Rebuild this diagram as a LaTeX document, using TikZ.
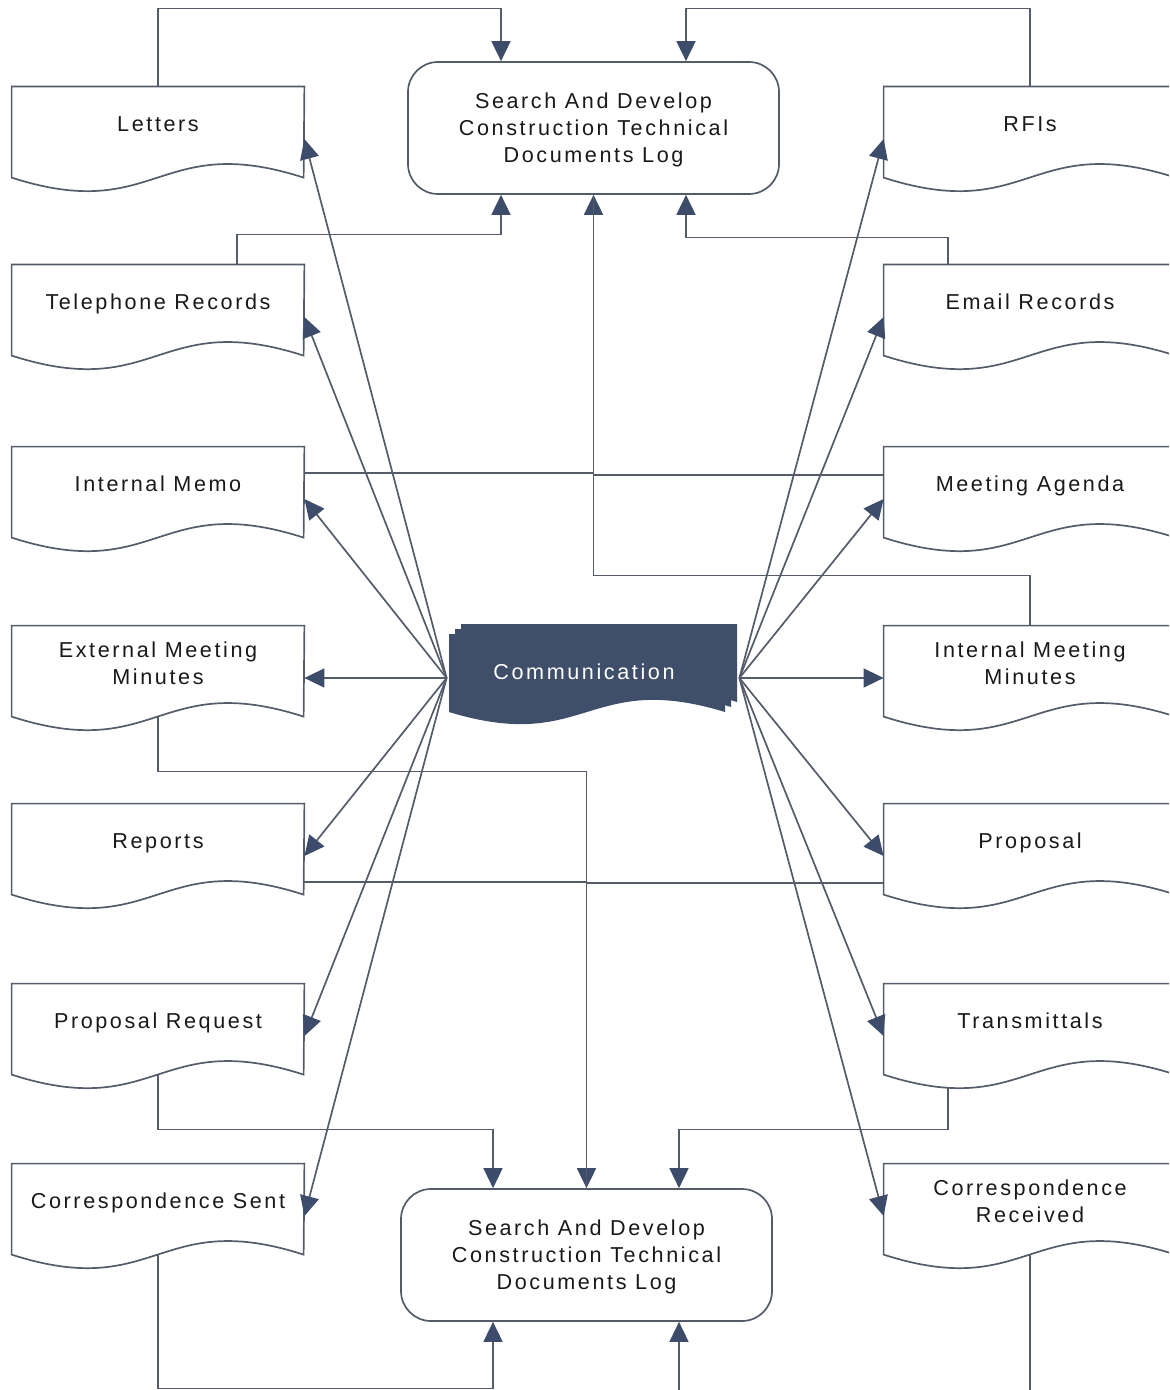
\documentclass[tikz,border=0pt]{standalone}
\usepackage{fontspec}
\setmainfont{Liberation Sans}[LetterSpace=12]
\usetikzlibrary{arrows.meta}
\definecolor{linec}{RGB}{84,92,106}
\definecolor{headc}{RGB}{61,76,106}
\definecolor{commc}{RGB}{63,78,105}
\tikzset{>={Triangle[length=10pt,width=9.5pt,color=headc]}}
\tikzset{
  doc/.style={minimum width=146pt,minimum height=37pt,inner sep=0pt,align=center,text=black!90},
  doc1/.style={doc,text height=0.73em,text depth=0pt},
  logbox/.style={draw=linec,line width=0.85pt,rounded corners=15pt,minimum width=185.5pt,
    minimum height=66pt,inner sep=0pt,align=center,text=black!90,text depth=0pt},
  link/.style={draw=linec,line width=0.85pt},
  flow/.style={link,->},
}
% outline of a document below its node
\newcommand{\docoutline}[1]{%
  \draw[link] (#1.north west) -- ++(0,91) .. controls +(146,47) and +(-146,-47) .. ++(292,0)
    -- (#1.north east) -- cycle;}

\begin{document}
\begin{tikzpicture}[x=0.5pt,y=-0.5pt,font=\fontsize{10.8}{13.5}\selectfont]
  \useasboundingbox (0,0) rectangle (1169,1390);
  \clip (0,0) rectangle (1169,1390);

  % logs
  \node[logbox] (toplog) at (593.5,128) {Search And Develop\\Construction Technical\\Documents Log};
  \node[logbox] (botlog) at (586.5,1255) {Search And Develop\\Construction Technical\\Documents Log};

  % left documents
  \node[doc1] (letters) at (158,124) {Letters};
  \node[doc1] (phone) at (158,302) {Telephone Records};
  \node[doc1] (memo) at (158,484) {Internal Memo};
  \node[doc] (emm) at (158,663) {External Meeting\\Minutes};
  \node[doc1] (reports) at (158,841) {Reports};
  \node[doc1] (preq) at (158,1021) {Proposal Request};
  \node[doc1] (csent) at (158,1201) {Correspondence Sent};
  % right documents
  \node[doc1] (rfis) at (1030,124) {RFIs};
  \node[doc1] (email) at (1030,302) {Email Records};
  \node[doc1] (agenda) at (1030,484) {Meeting Agenda};
  \node[doc] (imm) at (1030,663) {Internal Meeting\\Minutes};
  \node[doc1] (proposal) at (1030,841) {Proposal};
  \node[doc1] (trans) at (1030,1021) {Transmittals};
  \node[doc] (crec) at (1030,1201) {Correspondence\\Received};

  \foreach \n in {letters,phone,memo,emm,reports,preq,csent,rfis,email,agenda,imm,proposal,trans,crec}
    \docoutline{\n};

  % communication stack
  \node[inner sep=0pt,minimum width=146pt,minimum height=54pt] (comm) at (593,678) {};
  \foreach \d in {12,6,0}
    \fill[commc] (449+\d,634-\d*5/6) -- ++(0,78) .. controls +(138,42) and +(-138,-42) .. ++(276,0)
      -- ++(0,-78) -- cycle;
  \node[text=white] (commlabel) at (584,672) {Communication};

  \foreach \n in {letters,phone,memo,emm,reports,preq,csent}
    \draw[flow] (comm.west) -- ([yshift=-7.5pt]\n.east);
  \foreach \n in {rfis,email,agenda,imm,proposal,trans,crec}
    \draw[flow] (comm.east) -- ([yshift=-7.5pt]\n.west);

  % into the top log
  \draw[flow] (letters.north) -- ++(0,-78) -| ([xshift=-46.25pt]toplog.north);
  \draw[flow] (rfis.north) -- ++(0,-78) -| ([xshift=46.25pt]toplog.north);
  \draw[flow] ([xshift=39.5pt]phone.north) -- ++(0,-30) -| ([xshift=-46.25pt]toplog.south);
  \draw[flow] ([xshift=-41pt]email.north) -- ++(0,-27) -| ([xshift=46.25pt]toplog.south);
  \draw[flow] (imm.north) -- ++(0,-50) -| (toplog.south);
  \draw[link] ([yshift=5.5pt]memo.east) -| (toplog.south);
  \draw[link] ([yshift=4.5pt]agenda.west) -| (toplog.south);

  % into the bottom log
  \draw[flow] ([yshift=-8.5pt]emm.south) -- ++(0,54) -| (botlog.north);
  \draw[link] ([yshift=-20.5pt]reports.east) -| (botlog.north);
  \draw[link] ([yshift=-21pt]proposal.west) -| (botlog.north);
  \draw[flow] ([yshift=-8.5pt]preq.south) -- ++(0,54) -| ([xshift=-46.75pt]botlog.north);
  \draw[flow] ([xshift=-41pt,yshift=-15pt]trans.south) -- ++(0,41) -| ([xshift=46.25pt]botlog.north);
  \draw[flow] ([yshift=-8.5pt]csent.south) -- ++(0,133) -| ([xshift=-46.75pt]botlog.south);
  \draw[flow] ([yshift=-8.5pt]crec.south) -- ++(0,140) -| ([xshift=46.25pt]botlog.south);
\end{tikzpicture}
\end{document}
